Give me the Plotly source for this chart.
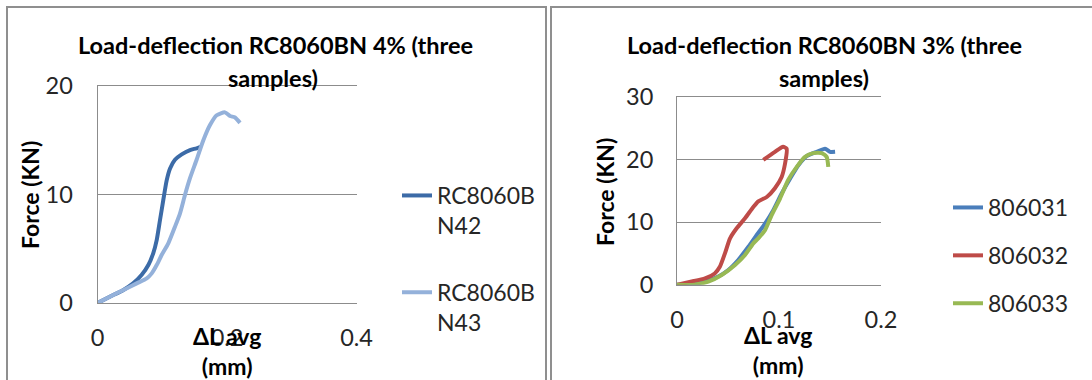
import plotly.graph_objects as go

W, H = 1092, 380

# Load-deflection RC8060BN 4% : two samples (ΔL avg in mm, force in kN)
n42_dl = [0, 0.019, 0.040, 0.055, 0.068, 0.0785, 0.086, 0.0914, 0.0965, 0.1016,
          0.1068, 0.112, 0.1196, 0.130, 0.1428, 0.153, 0.159]
n42_f = [0, 0.58, 1.2, 1.81, 2.58, 3.5, 4.58, 5.8, 7.65, 9.5,
         11.3, 12.4, 13.2, 13.7, 14.1, 14.26, 14.4]
n43_dl = [0, 0.019, 0.040, 0.0605, 0.076, 0.0837, 0.0914, 0.099, 0.1093, 0.1196,
          0.1274, 0.135, 0.1428, 0.153, 0.1634, 0.1737, 0.184, 0.1968, 0.2046,
          0.2123, 0.22]
n43_f = [0, 0.58, 1.2, 1.81, 2.27, 2.73, 3.5, 4.42, 5.5, 7.03,
         8.27, 9.95, 11.5, 13.2, 15.0, 16.4, 17.3, 17.57, 17.23,
         17.1, 16.6]

# Load-deflection RC8060BN 3% : three samples
s31_dl = [0, 0.014, 0.0275, 0.0405, 0.0503, 0.060, 0.070, 0.078, 0.0863, 0.0944,
          0.1026, 0.1108, 0.119, 0.1271, 0.137, 0.1451, 0.150, 0.155]
s31_f = [0, 0.05, 0.5, 1.3, 2.35, 3.95, 6.05, 7.9, 9.75, 11.9,
         14.55, 16.9, 19.05, 20.5, 21.2, 21.7, 21.2, 21.2]
s32_dl = [0, 0.0144, 0.0275, 0.037, 0.042, 0.047, 0.052, 0.0585, 0.0667, 0.0748,
          0.0797, 0.088, 0.096, 0.1026, 0.1059, 0.1075, 0.104, 0.096, 0.0846]
s32_f = [0, 0.5, 1.0, 1.8, 2.85, 5.0, 7.4, 9.0, 10.6, 12.4,
         13.3, 14.0, 15.4, 17.2, 19.3, 21.7, 22.0, 21.2, 19.9]
s33_dl = [0, 0.017, 0.0307, 0.0438, 0.0569, 0.0667, 0.0748, 0.0797, 0.0863, 0.0928,
          0.101, 0.109, 0.1174, 0.1255, 0.1336, 0.1418, 0.1467, 0.1483]
s33_f = [0, 0.0, 0.5, 1.55, 3.15, 4.75, 6.6, 7.4, 8.7, 11.1,
         13.75, 16.7, 18.8, 20.4, 21.0, 21.0, 20.4, 18.8]

left_names = ["RC8060B<br>N42", "RC8060B<br>N43"]
right_names = ["806031", "806032", "806033"]
left_colors = ["#3C6BA7", "#94B1DA"]
right_colors = ["#4A7EBB", "#BE4B48", "#98B954"]

left_xticks = [0, 0.2, 0.4]
left_yticks = [0, 10, 20]
right_xticks = [0, 0.1, 0.2]
right_yticks = [0, 10, 20, 30]

FONT = "Lato"
TXT = "#262626"
GRID = "#8C8C8C"


def fx(px):
    return px / W


def fy(py):
    return 1 - py / H


fig = go.Figure()

for xs, ys, name, col in zip([n42_dl, n43_dl], [n42_f, n43_f], left_names, left_colors):
    fig.add_trace(go.Scatter(
        x=xs, y=ys, name=name, mode="lines",
        line=dict(color=col, width=4, shape="spline", smoothing=0.6),
        xaxis="x", yaxis="y", legend="legend", legendgroup=name,
    ))

for xs, ys, name, col in zip([s31_dl, s32_dl, s33_dl], [s31_f, s32_f, s33_f],
                             right_names, right_colors):
    fig.add_trace(go.Scatter(
        x=xs, y=ys, name=name, mode="lines",
        line=dict(color=col, width=4, shape="spline", smoothing=0.6),
        xaxis="x2", yaxis="y2", legend="legend2", legendgroup=name,
    ))

tickfont = dict(family=FONT, size=23.5, color=TXT)

# x axes: bottom and top frame lines stand in for the 0 and max gridlines
common_x = dict(showgrid=False, zeroline=False, showline=True, mirror=True,
                linecolor=GRID, linewidth=1, ticks="",
                tickfont=tickfont, ticklabelstandoff=14, fixedrange=True)
common_y = dict(showgrid=True, gridcolor=GRID, gridwidth=1, zeroline=False,
                showline=True, linecolor=GRID, linewidth=1, ticks="",
                tickfont=tickfont, fixedrange=True)

fig.update_layout(
    width=W, height=H,
    margin=dict(l=0, r=0, t=0, b=0, pad=0, autoexpand=False),
    paper_bgcolor="white", plot_bgcolor="white",
    showlegend=True,
    xaxis=dict(domain=[fx(97.5), fx(356.6)], range=[0, 0.4],
               tickvals=left_xticks, ticktext=["0", "0.2", "0.4"],
               anchor="y", **common_x),
    yaxis=dict(domain=[fy(303), fy(86)], range=[0, 20],
               tickvals=left_yticks, anchor="x", ticklabelstandoff=19, **common_y),
    xaxis2=dict(domain=[fx(677), fx(881)], range=[0, 0.2],
                tickvals=right_xticks, ticktext=["0", "0.1", "0.2"],
                anchor="y2", **common_x),
    yaxis2=dict(domain=[fy(284.7), fy(96.7)], range=[0, 30],
                tickvals=right_yticks, anchor="x2", ticklabelstandoff=18, **common_y),
    legend=dict(x=fx(397), y=fy(174), xanchor="left", yanchor="top",
                font=dict(family=FONT, size=23, color=TXT),
                valign="top", tracegroupgap=34, bgcolor="rgba(0,0,0,0)"),
    legend2=dict(x=fx(948), y=fy(186), xanchor="left", yanchor="top",
                 font=dict(family=FONT, size=23, color=TXT),
                 tracegroupgap=15, bgcolor="rgba(0,0,0,0)"),
)

# Panel frames
frame = dict(color="#8F8F8F", width=2)
fig.add_shape(type="rect", xref="paper", yref="paper",
              x0=fx(7), x1=fx(546), y0=fy(400), y1=fy(7), line=frame, layer="below")
fig.add_shape(type="rect", xref="paper", yref="paper",
              x0=fx(551), x1=fx(1110), y0=fy(400), y1=fy(7), line=frame, layer="below")

title_font = dict(family=FONT, size=23.5, color="black", weight="bold")
axis_title_font = dict(family=FONT, size=23, color="black", weight="bold")

annotations = [
    # chart titles
    dict(text="Load-deflection RC8060BN 4% (three", x=fx(275), y=fy(45)),
    dict(text="samples)", x=fx(273), y=fy(78)),
    dict(text="Load-deflection RC8060BN 3% (three", x=fx(824), y=fy(45)),
    dict(text="samples)", x=fx(824), y=fy(78)),
]
for a in annotations:
    a.update(xref="paper", yref="paper", xanchor="center", yanchor="middle",
             showarrow=False, font=title_font)

axis_titles = [
    dict(text="ΔL avg<br>(mm)", x=fx(227), y=fy(351)),
    dict(text="ΔL avg<br>(mm)", x=fx(777.5), y=fy(350)),
    dict(text="Force (KN)", x=fx(30), y=fy(195), textangle=-90),
    dict(text="Force (KN)", x=fx(605), y=fy(192), textangle=-90),
]
for a in axis_titles:
    a.update(xref="paper", yref="paper", xanchor="center", yanchor="middle",
             showarrow=False, font=axis_title_font)

fig.update_layout(annotations=annotations + axis_titles)

fig.write_html("out.html")
